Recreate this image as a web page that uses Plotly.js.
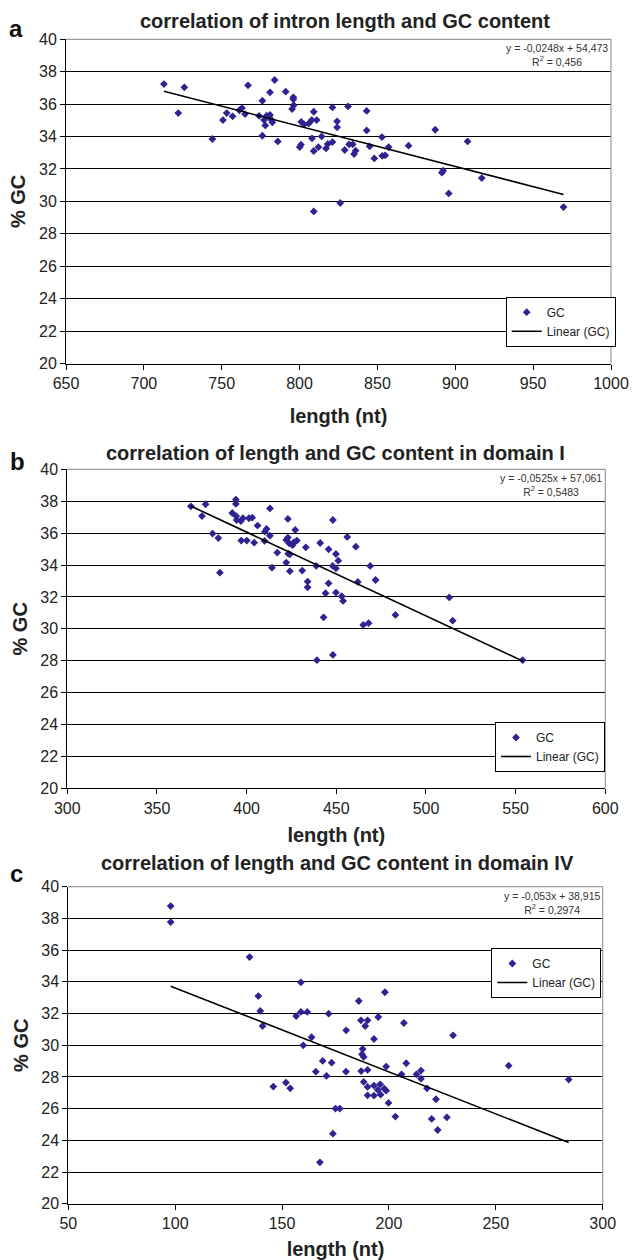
<!DOCTYPE html>
<html>
<head>
<meta charset="utf-8">
<script src="https://cdn.plot.ly/plotly-3.0.1.min.js"></script>
<style>html,body{margin:0;padding:0;background:#fff;}</style>
</head>
<body>
<div id="chart" style="width:636px;height:1260px;"></div>
<script>
// ---------- DATA ----------
// panel a: intron length vs GC
const aLength = [712.9,722.1,726.0,744.0,750.8,753.2,757.0,761.3,763.0,765.0,766.9,774.0,776.1,776.1,777.2,778.0,778.9,781.0,781.0,781.7,782.5,784.0,786.0,791.1,795.2,796.0,796.0,796.2,800.1,800.9,801.1,802.9,805.9,807.8,808.0,809.1,809.1,809.1,811.0,812.1,814.2,817.0,818.1,821.1,821.1,824.1,824.1,826.1,831.1,843.1,843.1,829.0,831.8,834.1,836.0,835.0,845.0,848.0,852.9,853.1,855.0,857.2,870.0,887.1,907.9,891.4,892.2,895.8,917.0,969.5];
const aGC = [37.24,35.45,37.04,33.85,35.02,35.45,35.25,35.62,35.76,35.39,37.16,35.27,36.21,34.05,35.02,34.69,35.29,35.33,36.73,35.06,34.88,37.49,33.70,36.77,35.70,36.42,36.30,35.93,33.35,33.50,34.90,34.75,34.81,35.02,33.89,35.53,33.11,29.38,35.02,33.35,34.01,33.27,33.54,35.80,33.66,34.94,34.57,29.90,35.86,35.58,34.38,33.17,33.52,33.52,33.13,32.92,33.40,32.65,33.97,32.81,32.84,33.35,33.44,34.42,33.70,31.77,31.89,30.49,31.44,29.65];
const aFit = {slope:-0.0248, intercept:54.473, eq:'y = -0,0248x + 54,473', r2:'0,456'};

// panel b: domain I
const bLength = [368.9,375.1,377.1,381.0,384.2,385.1,392.0,394.0,394.0,394.2,394.4,396.8,397.9,397.0,400.1,401.3,403.1,404.2,406.1,410.2,411.1,410.0,413.0,413.0,414.1,417.1,423.0,422.1,423.0,423.7,423.2,424.1,422.1,424.1,425.6,426.3,427.1,428.0,431.0,433.0,434.0,434.0,438.8,441.0,439.2,442.9,444.0,445.7,445.7,448.1,456.1,460.9,449.8,451.1,448.0,449.8,468.9,462.0,471.9,449.8,453.0,453.8,465.0,468.0,483.0,513.0,514.9,448.1,553.9];
const bGC = [37.68,37.07,37.81,35.97,35.69,33.52,37.26,38.10,37.83,37.07,36.82,36.76,36.93,35.53,35.53,36.93,36.97,35.40,36.47,36.09,36.26,35.51,37.55,35.84,33.83,34.78,36.89,35.57,35.72,35.36,34.71,34.67,34.15,33.61,35.24,35.42,36.20,35.53,33.65,35.11,32.96,32.60,33.94,35.38,28.03,30.72,32.23,32.85,34.98,36.82,35.76,35.15,34.69,34.27,33.94,33.79,33.94,32.94,33.06,32.27,32.04,31.75,30.24,30.35,30.87,31.97,30.51,28.36,28.03];
const bFit = {slope:-0.0525, intercept:57.061, eq:'y = -0,0525x + 57,061', r2:'0,5483'};

// panel c: domain IV
const cLength = [97.9,97.9,134.8,138.9,139.8,140.9,145.9,151.8,153.8,156.6,158.8,158.8,161.8,159.9,163.8,165.8,169.0,170.8,171.8,173.2,198.1,185.9,186.9,190.0,188.9,195.0,207.0,180.0,193.0,230.0,187.7,187.4,188.2,179.9,187.0,190.0,198.7,208.1,205.9,212.9,215.0,215.0,217.8,222.0,188.2,190.0,193.0,195.9,194.8,197.8,198.7,190.0,193.0,196.1,199.8,256.0,284.1,175.0,177.0,203.0,220.0,227.1,167.7,173.8,222.8];
const cGC = [38.78,37.77,35.56,33.10,32.16,31.21,27.39,27.64,27.28,31.84,32.10,33.97,32.10,29.99,30.50,28.33,29.01,28.06,31.99,28.90,33.34,32.79,31.57,31.57,31.21,31.78,31.40,30.94,30.39,30.62,29.76,29.43,29.26,28.33,28.37,28.44,28.65,28.86,28.16,28.16,28.40,27.89,27.28,26.59,27.68,27.37,27.45,27.53,27.18,27.26,27.13,26.84,26.82,26.88,26.36,28.71,27.83,26.00,26.00,25.50,25.35,25.45,22.61,24.42,24.65];
const cFit = {slope:-0.053, intercept:38.915, eq:'y = -0,053x + 38,915', r2:'0,2974'};

const panelTitles = ['correlation of intron length and GC content','correlation of length and GC content in domain I','correlation of length and GC content in domain IV'];
const panelLetters = ['a','b','c'];
const xRanges = [[650,1000],[300,600],[50,300]];
const yRange = [20,40];
const xTitle = 'length (nt)';
const yTitle = '% GC';
const seriesName = 'GC';
const fitName = 'Linear (GC)';

// ---------- LAYOUT ----------
const W = 636, H = 1260;
const FONT = 'Liberation Sans, Arial, Helvetica, sans-serif';
// plot areas in pixels [left, right, top, bottom]
const boxes = [[66,611,39.3,363.5],[67.3,605.3,469.3,788.3],[68.3,602.7,886.7,1203.7]];
const legendPos = [[505.7,296.7],[495,722],[491.3,948]];
const titlePos = [[345,20.7],[335,452.7],[337,863.3]];
const letterPos = [[16,28],[17,461],[16,873]];
const xStandoff = [18,12,15];

const panels = [[aLength,aGC,aFit],[bLength,bGC,bFit],[cLength,cGC,cFit]];
const traces = [];
const layout = {
  width:W, height:H, margin:{l:0,r:0,t:0,b:0,pad:0},
  paper_bgcolor:'#fff', plot_bgcolor:'#fff',
  font:{family:FONT, color:'#222'},
  annotations:[], shapes:[]
};

panels.forEach((p,i)=>{
  const n = i===0 ? '' : String(i+1);
  const xa = 'x'+n, ya = 'y'+n;
  const lg = 'legend'+n;
  const [xs, ys, fit] = p;
  traces.push({
    type:'scatter', mode:'markers', x:xs, y:ys, name:seriesName,
    xaxis:xa, yaxis:ya, legend:lg,
    marker:{symbol:'diamond', size:6, color:'#2e2390', line:{width:0}},
    hoverinfo:'x+y'
  });
  const x0 = Math.min(...xs), x1 = Math.max(...xs);
  traces.push({
    type:'scatter', mode:'lines', x:[x0,x1], y:[fit.slope*x0+fit.intercept, fit.slope*x1+fit.intercept],
    name:fitName, xaxis:xa, yaxis:ya, legend:lg,
    line:{color:'#000', width:1.6}, hoverinfo:'skip'
  });
  const b = boxes[i];
  layout['xaxis'+n] = {
    domain:[b[0]/W, b[1]/W], anchor:ya, range:xRanges[i], autorange:false, dtick:50, tick0:0,
    showgrid:false, zeroline:false, showline:true, linecolor:'#000', linewidth:1,
    ticks:'outside', ticklen:5, tickcolor:'#000', tickwidth:1,
    tickfont:{size:16, color:'#222', family:FONT},
    title:{text:xTitle, font:{size:20, color:'#222', family:FONT, weight:'bold'}, standoff:xStandoff[i]},
    fixedrange:true
  };
  layout['yaxis'+n] = {
    domain:[1-b[3]/H, 1-b[2]/H], anchor:xa, range:yRange, autorange:false, dtick:2, tick0:0,
    showgrid:true, gridcolor:'#000', gridwidth:1, zeroline:false,
    showline:true, linecolor:'#000', linewidth:1,
    ticks:'outside', ticklen:5, tickcolor:'#000', tickwidth:1,
    tickfont:{size:16, color:'#222', family:FONT},
    title:{text:yTitle, font:{size:20, color:'#222', family:FONT, weight:'bold'}, standoff:7},
    fixedrange:true
  };
  layout[lg] = {
    x:legendPos[i][0]/W, y:1-legendPos[i][1]/H, xanchor:'left', yanchor:'top',
    bgcolor:'#fff', bordercolor:'#000', borderwidth:1,
    font:{size:12, color:'#222', family:FONT}, tracegroupgap:0, itemwidth:30
  };
  // grey plot-area frame (top and right)
  layout.shapes.push({type:'line', xref:xa+' domain', yref:ya+' domain', x0:0, x1:1, y0:1, y1:1, line:{color:'#9a9a9a', width:1.2}, layer:'above'});
  layout.shapes.push({type:'line', xref:xa+' domain', yref:ya+' domain', x0:1, x1:1, y0:0, y1:1, line:{color:'#9a9a9a', width:1.2}, layer:'above'});
  // regression equation
  layout.annotations.push({
    xref:xa+' domain', yref:ya+' domain', x:1, y:1, xanchor:'right', yanchor:'top', yshift:-1, xshift:-1,
    text:fit.eq+'<br>R<sup>2</sup> = '+fit.r2, align:'center', showarrow:false,
    font:{size:10.5, color:'#333', family:FONT}
  });
  // panel title
  layout.annotations.push({
    xref:'paper', yref:'paper', x:titlePos[i][0]/W, y:1-titlePos[i][1]/H, xanchor:'center', yanchor:'middle',
    text:'<b>'+panelTitles[i]+'</b>', showarrow:false, font:{size:20, color:'#222', family:FONT}
  });
  // panel letter
  layout.annotations.push({
    xref:'paper', yref:'paper', x:letterPos[i][0]/W, y:1-letterPos[i][1]/H, xanchor:'center', yanchor:'middle',
    text:'<b>'+panelLetters[i]+'</b>', showarrow:false, font:{size:24, color:'#111', family:FONT}
  });
});

Plotly.newPlot('chart', traces, layout, {staticPlot:true, displayModeBar:false});
</script>
</body>
</html>
